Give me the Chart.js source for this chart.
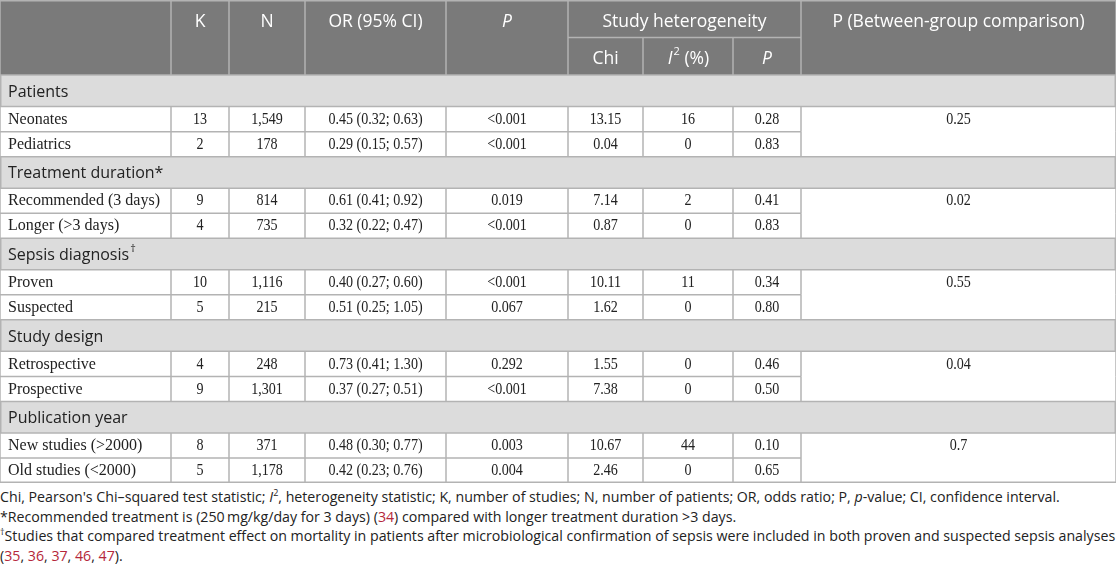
<!DOCTYPE html>
<html>
<head>
<meta charset="utf-8">
<script src="https://cdn.jsdelivr.net/npm/chart.js@4"></script>
<style>
  body { margin: 0; background: #fff; width: 1116px; height: 569px; overflow: hidden; }
  #tableChart { display: block; }
  #notes { font-family: 'Open Sans', sans-serif; font-size: 14.2px; color: #222; line-height: 19.5px; padding-top: 4px; }
  #notes div { white-space: nowrap; }
  #notes sup { font-size: 9px; line-height: 0; }
  .ref { color: #b5273a; }
</style>
</head>
<body>
<canvas id="tableChart" width="1116" height="483"></canvas>
<div id="notes">
  <div>Chi, Pearson's Chi–squared test statistic; <i>I</i><sup>2</sup>, heterogeneity statistic; K, number of studies; N, number of patients; OR, odds ratio; P, <i>p</i>-value; CI, confidence interval.</div>
  <div>*Recommended treatment is (250&#8201;mg/kg/day for 3 days) (<span class="ref">34</span>) compared with longer treatment duration &gt;3 days.</div>
  <div><sup>†</sup>Studies that compared treatment effect on mortality in patients after microbiological confirmation of sepsis were included in both proven and suspected sepsis analyses</div>
  <div>(<span class="ref">35</span>, <span class="ref">36</span>, <span class="ref">37</span>, <span class="ref">46</span>, <span class="ref">47</span>).</div>
</div>
<script>
// Données du tableau
const groupes      = ['Patients', 'Treatment duration*', 'Sepsis diagnosis', 'Study design', 'Publication year'];
const groupesMarque = ['', '', '†', '', ''];
const categories   = ['Neonates', 'Pediatrics', 'Recommended (3 days)', 'Longer (>3 days)', 'Proven', 'Suspected',
                      'Retrospective', 'Prospective', 'New studies (>2000)', 'Old studies (<2000)'];
const kValeurs     = [13, 2, 9, 4, 10, 5, 4, 9, 8, 5];
const nValeurs     = [1549, 178, 814, 735, 1116, 215, 248, 1301, 371, 1178];
const orValeurs    = [0.45, 0.29, 0.61, 0.32, 0.40, 0.51, 0.73, 0.37, 0.48, 0.42];
const icBas        = [0.32, 0.15, 0.41, 0.22, 0.27, 0.25, 0.41, 0.27, 0.30, 0.23];
const icHaut       = [0.63, 0.57, 0.92, 0.47, 0.60, 1.05, 1.30, 0.51, 0.77, 0.76];
const pValeurs     = ['<0.001', '<0.001', '0.019', '<0.001', '<0.001', '0.067', '0.292', '<0.001', '0.003', '0.004'];
const chiValeurs   = [13.15, 0.04, 7.14, 0.87, 10.11, 1.62, 1.55, 7.38, 10.67, 2.46];
const i2Valeurs    = [16, 0, 2, 0, 11, 0, 0, 0, 44, 0];
const pHeteroValeurs = [0.28, 0.83, 0.41, 0.83, 0.34, 0.80, 0.46, 0.50, 0.10, 0.65];
const pEntreGroupes  = ['0.25', '0.02', '0.55', '0.04', '0.7'];

// Mise en page (unités des échelles)
const bordsColonnes = [0, 171, 229, 305, 446, 568, 643, 733, 801, 1116];
const hautEntete = 75, hautGroupe = 31.5, hautLigne = 25;
const totalHaut = hautEntete + groupes.length * hautGroupe + categories.length * hautLigne;

const SANS  = "'Open Sans', sans-serif";
const SERIF = "'Liberation Serif', serif";
const fmtN  = (n) => n.toLocaleString('en-US');

const tableau = {
  id: 'tableau',
  beforeDraw(chart) {
    const { ctx, scales: { x, y } } = chart;
    const px = (v) => x.getPixelForValue(v);
    const py = (v) => y.getPixelForValue(v);
    const centreCol = (i) => px((bordsColonnes[i] + bordsColonnes[i + 1]) / 2);
    const fin = bordsColonnes[bordsColonnes.length - 1];

    ctx.save();
    ctx.fillStyle = '#fff';
    ctx.fillRect(px(0), py(0), px(fin) - px(0), py(totalHaut) - py(0));

    // En-tête
    ctx.fillStyle = '#7a7a7a';
    ctx.fillRect(px(0), py(0), px(fin) - px(0), py(hautEntete) - py(0));

    const ligne = (x1, y1, x2, y2) => {
      ctx.beginPath(); ctx.moveTo(px(x1), py(y1)); ctx.lineTo(px(x2), py(y2)); ctx.stroke();
    };
    const texte = (t, cx, cy, font, color, align) => {
      ctx.font = font; ctx.fillStyle = color; ctx.textAlign = align || 'center'; ctx.textBaseline = 'middle';
      ctx.fillText(t, cx, cy);
    };
    // chiffres un peu condensés, comme dans l'original
    const nombre = (t, cx, cy) => {
      ctx.save();
      ctx.translate(cx, cy); ctx.scale(0.88, 1);
      texte(t, 0, 0, `16px ${SERIF}`, '#222');
      ctx.restore();
    };

    // Lignes de données
    let yc = hautEntete;
    const lignesY = [];
    groupes.forEach((g, gi) => {
      ctx.fillStyle = '#dcdcdc';
      ctx.fillRect(px(0), py(yc), px(fin) - px(0), py(yc + hautGroupe) - py(yc));
      lignesY.push({ type: 'groupe', haut: yc, idx: gi });
      yc += hautGroupe;
      for (let k = 0; k < 2; k++) {
        lignesY.push({ type: 'ligne', haut: yc, idx: gi * 2 + k, premier: k === 0 });
        yc += hautLigne;
      }
    });

    // Grille
    ctx.strokeStyle = '#b3b3b3';
    ctx.lineWidth = 1.5;
    ligne(bordsColonnes[5], hautEntete / 2, bordsColonnes[8], hautEntete / 2);
    bordsColonnes.forEach((b, i) => {
      if (i === 6 || i === 7) ligne(b, hautEntete / 2, b, hautEntete);
      else ligne(b, 0, b, hautEntete);
    });
    ligne(0, 0.75, fin, 0.75);
    lignesY.forEach((r) => {
      const h = r.type === 'groupe' ? hautGroupe : hautLigne;
      if (r.type === 'ligne' && !r.premier) ligne(0, r.haut, bordsColonnes[8], r.haut);
      else ligne(0, r.haut, fin, r.haut);
      if (r.type === 'ligne') bordsColonnes.forEach((b) => ligne(b, r.haut, b, r.haut + h));
      else { ligne(0.75, r.haut, 0.75, r.haut + h); ligne(fin - 0.75, r.haut, fin - 0.75, r.haut + h); }
    });
    ligne(0, totalHaut - 0.75, fin, totalHaut - 0.75);

    // Textes de l'en-tête
    const fEnt = `17.5px ${SANS}`, fEntI = `italic 17.5px ${SANS}`, fExp = `11px ${SANS}`;
    const yH1 = py(22), yH2 = py(58.5);
    texte('K', centreCol(1), yH1, fEnt, '#fff');
    texte('N', centreCol(2), yH1, fEnt, '#fff');
    texte('OR (95% CI)', centreCol(3), yH1, fEnt, '#fff');
    texte('P', centreCol(4), yH1, fEntI, '#fff');
    texte('Study heterogeneity', px((bordsColonnes[5] + bordsColonnes[8]) / 2), yH1, fEnt, '#fff');
    texte('P (Between-group comparison)', centreCol(8), yH1, fEnt, '#fff');
    texte('Chi', centreCol(5), yH2, fEnt, '#fff');
    // I² (%)
    ctx.font = fEntI; const wI = ctx.measureText('I').width;
    ctx.font = fExp; const w2 = ctx.measureText('2').width;
    ctx.font = fEnt; const wR = ctx.measureText(' (%)').width;
    const x0 = centreCol(6) - (wI + w2 + wR) / 2;
    texte('I', x0, yH2, fEntI, '#fff', 'left');
    texte('2', x0 + wI + 1, yH2 - 7, fExp, '#fff', 'left');
    texte(' (%)', x0 + wI + w2 + 1, yH2, fEnt, '#fff', 'left');
    texte('P', centreCol(7), yH2, fEntI, '#fff');

    // Corps
    const fCorps = `16px ${SERIF}`, fGroupe = `16px ${SANS}`;
    lignesY.forEach((r) => {
      if (r.type === 'groupe') {
        const cy = py(r.haut + hautGroupe / 2 + 1.5);
        texte(groupes[r.idx], px(8), cy, fGroupe, '#222', 'left');
        if (groupesMarque[r.idx]) {
          ctx.font = fGroupe;
          const w = ctx.measureText(groupes[r.idx]).width;
          texte(groupesMarque[r.idx], px(8) + w + 1, cy - 7, `11px ${SANS}`, '#222', 'left');
        }
        return;
      }
      const i = r.idx;
      const cy = py(r.haut + hautLigne / 2 + 0.5);
      texte(categories[i], px(8), cy, fCorps, '#222', 'left');
      nombre(String(kValeurs[i]), centreCol(1), cy);
      nombre(fmtN(nValeurs[i]), centreCol(2), cy);
      nombre(`${orValeurs[i].toFixed(2)} (${icBas[i].toFixed(2)}; ${icHaut[i].toFixed(2)})`, centreCol(3), cy);
      nombre(pValeurs[i], centreCol(4), cy);
      nombre(chiValeurs[i].toFixed(2), centreCol(5), cy);
      nombre(String(i2Valeurs[i]), centreCol(6), cy);
      nombre(pHeteroValeurs[i].toFixed(2), centreCol(7), cy);
      if (r.premier) nombre(pEntreGroupes[Math.floor(i / 2)], centreCol(8), cy);
    });
    ctx.restore();
  }
};

new Chart(document.getElementById('tableChart'), {
  type: 'scatter',
  data: { datasets: [] },
  options: {
    responsive: false,
    animation: false,
    layout: { padding: 0 },
    plugins: { legend: { display: false }, tooltip: { enabled: false } },
    scales: {
      x: { type: 'linear', min: 0, max: bordsColonnes[bordsColonnes.length - 1], display: false },
      y: { type: 'linear', min: 0, max: totalHaut, reverse: true, display: false }
    }
  },
  plugins: [tableau]
});
</script>
</body>
</html>
